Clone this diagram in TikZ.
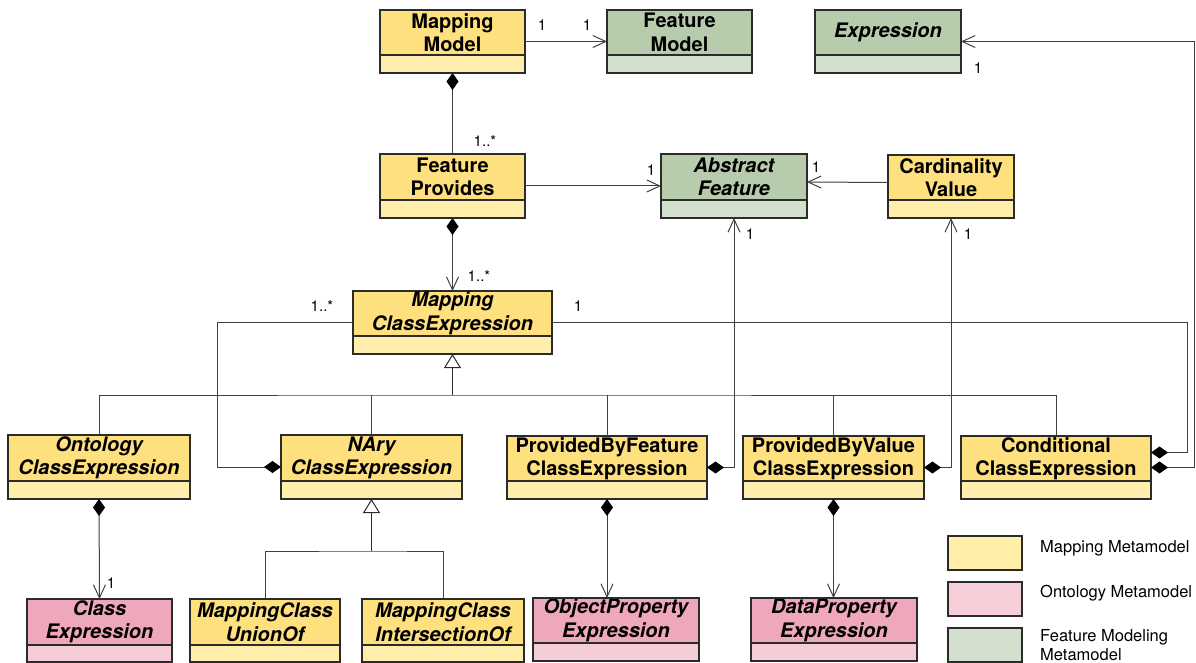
\documentclass[tikz,border=0pt]{standalone}
\usepackage{fontspec}
\setmainfont{TeX Gyre Heros}
\usetikzlibrary{arrows.meta,calc,fit}

% palette: header / compartment fills for the three metamodels
\definecolor{yhead}{HTML}{FFE07E}
\definecolor{ycomp}{HTML}{FFEDAC}
\definecolor{ghead}{HTML}{B7CBAD}
\definecolor{gcomp}{HTML}{D3E0CE}
\definecolor{phead}{HTML}{EFA8BB}
\definecolor{pcomp}{HTML}{F5CDD7}
\definecolor{legy}{HTML}{FFEFA8}
\definecolor{legp}{HTML}{F6CED8}
\definecolor{legg}{HTML}{D4E0CE}
\definecolor{edgec}{HTML}{2B2B2B}
\definecolor{wirec}{HTML}{404040}

\tikzset{
  hdr/.style={draw=edgec, line width=1.1pt, inner sep=0pt, outer sep=0pt,
    align=center, anchor=north west, font=\fontsize{20}{23.5}\selectfont\bfseries},
  cmp/.style={draw=edgec, line width=1.1pt, inner sep=0pt, outer sep=0pt, anchor=north},
  wholebox/.style={inner sep=0pt, outer sep=0pt},
  wire/.style={draw=wirec, line width=1pt},
  nav/.style={wire, -{Straight Barb[length=13pt,width=12pt]}},
  owner/.style={wire, {Diamond[length=17pt,width=12pt,color=black]}-},
  ownnav/.style={wire, {Diamond[length=17pt,width=12pt,color=black]}-{Straight Barb[length=13pt,width=12pt]}},
  genarrow/.style={draw=edgec, line width=1.6pt, {Triangle[open,length=14pt,width=17pt,line width=1pt,fill=white]}-},
  mult/.style={inner sep=0pt, font=\fontsize{15}{17}\selectfont},
  legbox/.style={draw=edgec, line width=2pt, minimum width=74pt, minimum height=34pt, inner sep=0pt},
  legtxt/.style={inner sep=0pt, anchor=west, align=left, font=\fontsize{16.5}{19}\selectfont},
}

% a UML class: name, x, y, width, header height, compartment height, palette, title
\newcommand\umlclass[8]{%
  \node[hdr, fill=#7head, minimum width=#4pt, minimum height=#5pt] (#1) at (#2,#3) {#8};
  \node[cmp, fill=#7comp, minimum width=#4pt, minimum height=#6pt] (#1c) at (#1.south) {};
  \node[wholebox, fit=(#1)(#1c)] (#1B) {};
}

\begin{document}
\begin{tikzpicture}[x=1pt, y=-1pt]
\fill[white] (0,0) rectangle (1196,663);
\useasboundingbox (0,0) rectangle (1196,663);

% classes
\umlclass{mm}{380}{10}{145}{45}{18}{y}{Mapping\\Model}
\umlclass{fm}{607}{10}{145}{45}{18}{g}{Feature\\Model}
\umlclass{ex}{815}{10}{146}{45}{18}{g}{\itshape Expression}
\umlclass{fp}{380}{154}{145}{46}{18}{y}{Feature\\Provides}
\umlclass{af}{661}{154}{146}{46}{18}{g}{\itshape Abstract\\\itshape Feature}
\umlclass{cv}{888}{155}{126}{45}{18}{y}{Cardinality\\Value}
\umlclass{mce}{353}{291}{199}{45}{18}{y}{\itshape Mapping\\\itshape ClassExpression}
\umlclass{ocx}{8}{435}{182}{46}{18}{y}{\itshape Ontology\\\itshape ClassExpression}
\umlclass{nary}{281}{435}{181}{46}{18}{y}{\itshape NAry\\\itshape ClassExpression}
\umlclass{pbf}{507}{436}{200}{45}{18}{y}{ProvidedByFeature\\ClassExpression}
\umlclass{pbv}{743}{436}{181}{45}{18}{y}{ProvidedByValue\\ClassExpression}
\umlclass{cond}{961}{436}{190}{45}{18}{y}{Conditional\\ClassExpression}
\umlclass{ce}{27}{599}{145}{46}{17}{p}{\itshape Class\\\itshape Expression}
\umlclass{un}{190}{599}{150}{46}{17}{y}{\itshape MappingClass\\\itshape UnionOf}
\umlclass{in}{362}{599}{162}{46}{17}{y}{\itshape MappingClass\\\itshape IntersectionOf}
\umlclass{opx}{533}{598}{166}{45}{18}{p}{\itshape ObjectProperty\\\itshape Expression}
\umlclass{dpx}{751}{598}{166}{45}{18}{p}{\itshape DataProperty\\\itshape Expression}
\draw[edgec, line width=2pt] (opxB.north west) rectangle (opxB.south east);
\draw[edgec, line width=2pt] (dpxB.north west) rectangle (dpxB.south east);

% associations
\draw[nav] (mmB.east) -- (fmB.west);
\draw[owner] (mmB.south) -- (fpB.north);
\draw[nav] (fpB.east) -- (afB.west);
\draw[nav] ([yshift=4pt]cvB.west) -- ([yshift=4pt]afB.east);
\draw[ownnav] (fpB.south) -- (mceB.north);
\draw[owner] (naryB.west) -- ++(-64,0) |- (mceB.west);
\draw[owner] ([yshift=15pt]condB.east) -- ++(36,0) |- (mceB.east);
\draw[ownnav] (condB.east) -- ++(43,0) |- (exB.east);
\draw[ownnav] (pbfB.east) -| (afB.south);
\draw[ownnav] (pbvB.east) -| (cvB.south);
\draw[ownnav] (ocxB.south) -- (ceB.north);
\draw[ownnav] (pbfB.south) -- (pbfB.south |- opxB.north);
\draw[ownnav] (pbvB.south) -- (pbvB.south |- dpxB.north);

% generalisation trees
\draw[genarrow] (mceB.south) -- ++(0,41) coordinate (gj);
\draw[wire] (ocxB.north) |- (gj) -| (condB.north);
\draw[wire] (naryB.north) -- (naryB.north |- gj);
\draw[wire] (pbfB.north) -- (pbfB.north |- gj);
\draw[wire] (pbvB.north) -- (pbvB.north |- gj);
\draw[genarrow] (naryB.south) -- ++(0,52) coordinate (nj);
\draw[wire] (unB.north) |- (nj) -| (inB.north);

% multiplicities
\node[mult] (k1) at (542,25) {1};
\node[mult] (k2) at (587,25) {1};
\node[mult] (k3) at (485,141) {1..*};
\node[mult] (k4) at (651,170) {1};
\node[mult] (k5) at (816,167) {1};
\node[mult] (k6) at (750,234) {1};
\node[mult] (k7) at (968,234) {1};
\node[mult] (k8) at (479,276) {1..*};
\node[mult] (k9) at (322,306) {1..*};
\node[mult] (k10) at (578,306) {1};
\node[mult] (k11) at (978,68) {1};
\node[mult] (k12) at (111,583) {1};

% legend
\node[legbox, fill=legy] (lg1) at (985,553) {};
\node[legbox, fill=legp] (lg2) at (985,599) {};
\node[legbox, fill=legg] (lg3) at (985,644.5) {};
\node[legtxt] (lt1) at (1040,548) {Mapping Metamodel};
\node[legtxt] (lt2) at (1040,593) {Ontology Metamodel};
\node[legtxt] (lt3) at (1040,645) {Feature Modeling\\Metamodel};
\end{tikzpicture}
\end{document}
